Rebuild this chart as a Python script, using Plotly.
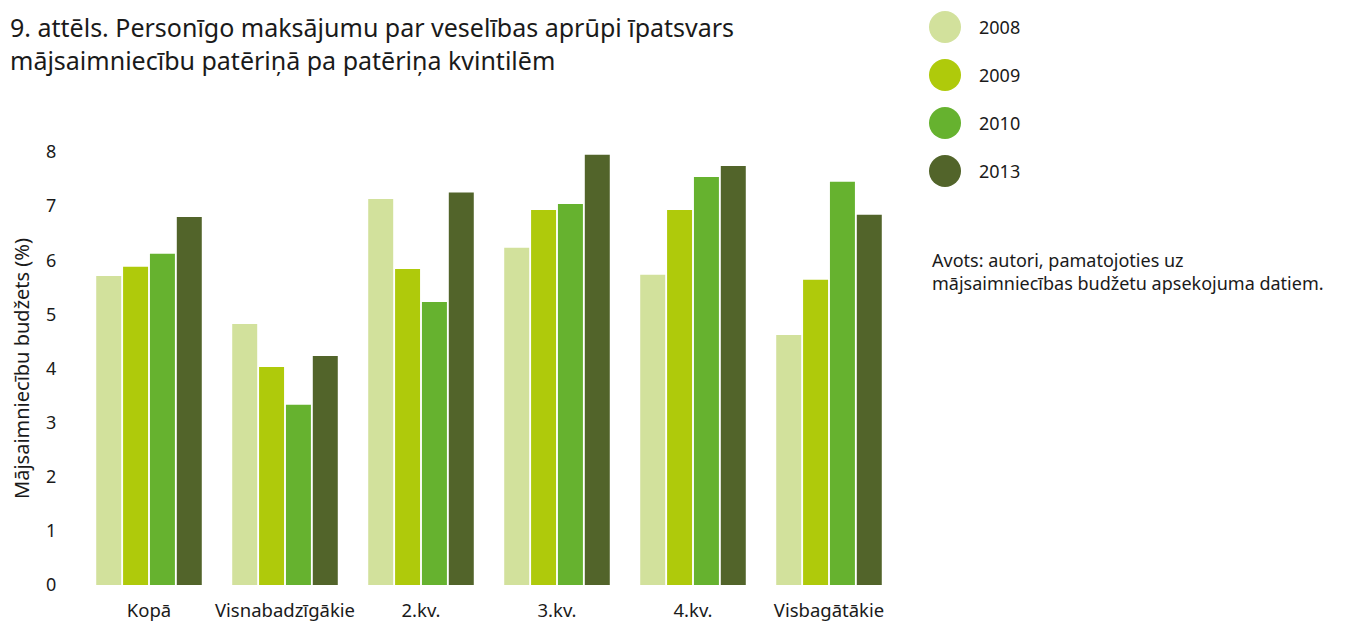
import plotly.graph_objects as go

categories = ["Kopā", "Visnabadzīgākie", "2.kv.", "3.kv.", "4.kv.", "Visbagātākie"]
years = ["2008", "2009", "2010", "2013"]
v2008 = [5.71, 4.82, 7.13, 6.23, 5.73, 4.62]
v2009 = [5.88, 4.03, 5.84, 6.93, 6.93, 5.64]
v2010 = [6.12, 3.33, 5.23, 7.04, 7.54, 7.45]
v2013 = [6.80, 4.23, 7.25, 7.95, 7.74, 6.84]
series = [v2008, v2009, v2010, v2013]
colors = ["#d2e19c", "#afca0b", "#66b22f", "#52642a"]
yticks = [0, 1, 2, 3, 4, 5, 6, 7, 8]

FONT = "Noto Sans"
TXT = "#1a1a1a"

fig = go.Figure()
for name, vals, col in zip(years, series, colors):
    fig.add_trace(go.Bar(x=categories, y=vals, name=name, marker=dict(color=col, line=dict(width=0)),
                         showlegend=False))

# manual legend (large circles)
for i, (name, col) in enumerate(zip(years, colors)):
    fig.add_shape(type="circle", xref="paper", yref="paper", xsizemode="pixel", ysizemode="pixel",
                  xanchor=1.0, yanchor=1.0, x0=48 - 16, x1=48 + 16,
                  y0=125 - 48 * i - 16, y1=125 - 48 * i + 16,
                  fillcolor=col, line=dict(width=0))
    fig.add_annotation(xref="paper", yref="paper", x=1.0, y=1.0, xshift=80, yshift=125 - 48 * i,
                       text=name, showarrow=False, xanchor="left", yanchor="middle",
                       font=dict(family=FONT, size=18, color=TXT))

fig.add_annotation(xref="paper", yref="paper", x=1.0, y=1.0, xshift=33, yshift=-119,
                   text="Avots: autori, pamatojoties uz<br>mājsaimniecības budžetu apsekojuma datiem.",
                   showarrow=False, xanchor="left", yanchor="middle", align="left",
                   font=dict(family=FONT, size=18, color=TXT))

fig.add_annotation(xref="paper", yref="paper", x=0, y=1.0, xshift=-73, yshift=109,
                   text="9. attēls. Personīgo maksājumu par veselības aprūpi īpatsvars<br>mājsaimniecību patēriņā pa patēriņa kvintilēm",
                   showarrow=False, xanchor="left", yanchor="middle", align="left",
                   font=dict(family=FONT, size=25, color=TXT))

fig.update_layout(
    width=1343, height=617,
    margin=dict(l=73, r=454, t=144, b=40),
    paper_bgcolor="white", plot_bgcolor="white",
    barmode="group", bargap=0.21, bargroupgap=0.07,
    font=dict(family=FONT, size=18, color=TXT),
    xaxis=dict(showgrid=False, showline=False, zeroline=False, ticks="outside", ticklen=9,
               tickcolor="white", tickfont=dict(size=18.5), automargin=False),
    yaxis=dict(range=[0, 8], tickvals=yticks, showgrid=False, showline=False, zeroline=False,
               ticks="outside", ticklen=20, tickcolor="white", tickfont=dict(size=18),
               automargin=False,
               title=dict(text="Mājsaimniecību budžets (%)", font=dict(size=20), standoff=14)),
)

fig.write_html("out.html")
